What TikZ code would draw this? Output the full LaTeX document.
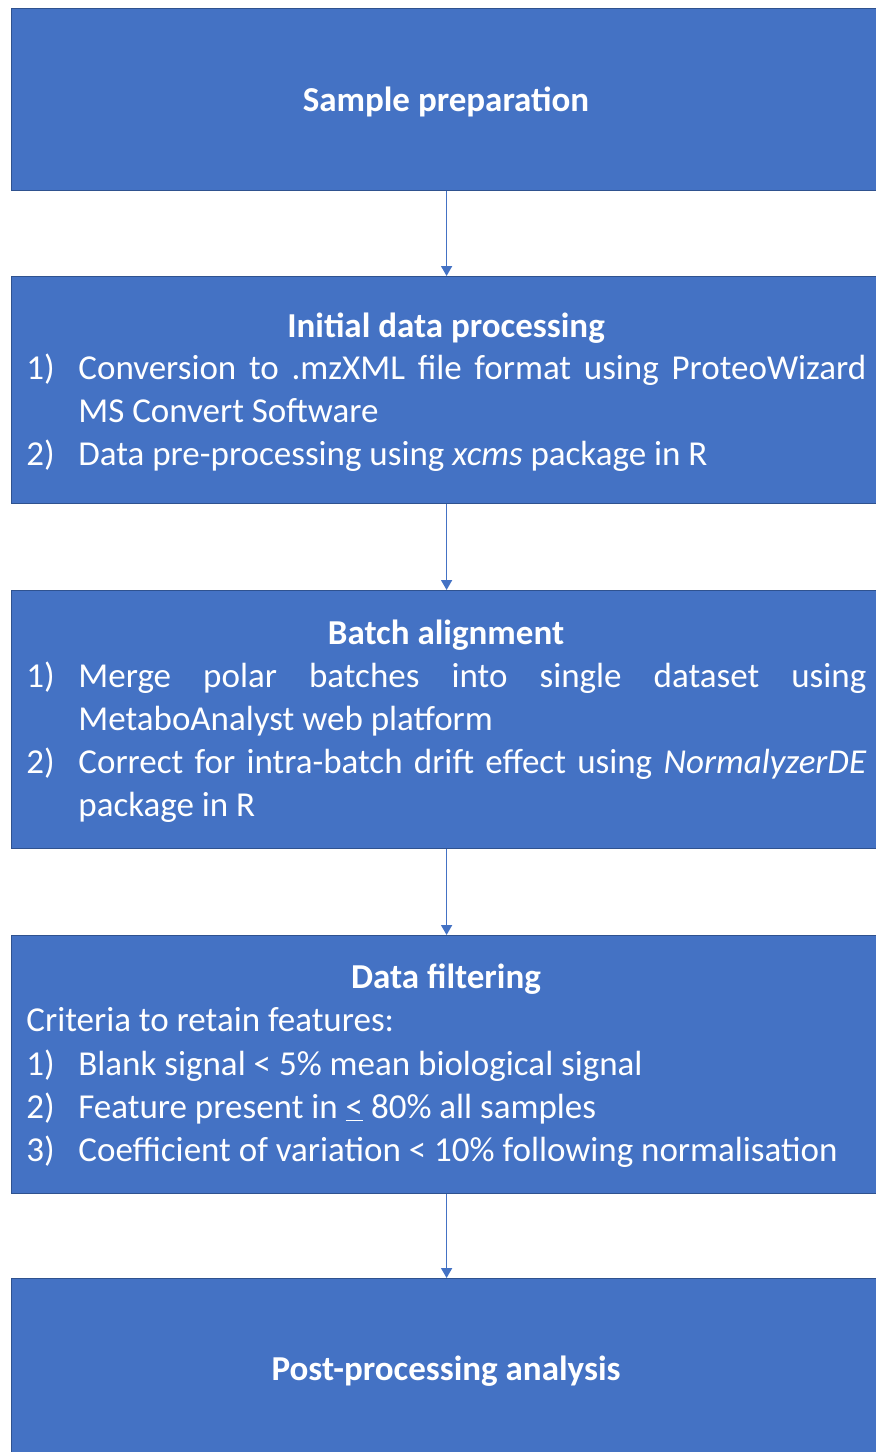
\documentclass[tikz,border=0pt]{standalone}
\usepackage{fontspec}
\setmainfont{Carlito}
\usetikzlibrary{arrows.meta}
\definecolor{boxblue}{HTML}{4472C4}
\definecolor{boxborder}{HTML}{2F528F}
\begin{document}
\begin{tikzpicture}[x=0.5pt,y=-0.5pt,
  stepbox/.style={rectangle, draw=boxborder, fill=boxblue, line width=0.6pt, minimum width=435pt, anchor=north west, inner sep=0pt},
  conn/.style={draw=boxblue, line width=0.8pt, -{Triangle[width=5.5pt,length=5pt]}},
  txt/.style={text=white, inner sep=0pt, anchor=base west, font=\fontsize{17.5pt}{21.5pt}\selectfont},
  ttl/.style={text=white, inner sep=0pt, anchor=base, font=\fontsize{17.5pt}{21.5pt}\selectfont\bfseries}]
\useasboundingbox (0,0) rectangle (876,1452);
% boxes
\node[stepbox, minimum height=91pt] (b1) at (11,8) {};
\node[stepbox, minimum height=113.5pt] (b2) at (11,276) {};
\node[stepbox, minimum height=129pt] (b3) at (11,590) {};
\node[stepbox, minimum height=129pt] (b4) at (11,935) {};
\node[stepbox, minimum height=91pt] (b5) at (11,1278) {};
% connectors
\draw[conn] (b1.south) -- (b2.north);
\draw[conn] (b2.south) -- (b3.north);
\draw[conn] (b3.south) -- (b4.north);
\draw[conn] (b4.south) -- (b5.north);
% box 1
\node[ttl] (t1) at (446,111) {Sample preparation};
% box 2
\node[ttl] (t2) at (446,337) {Initial data processing};
\node[txt] (n21) at (26,379) {1)};
\node[txt] (l21) at (78,379) {\makebox[394pt][s]{Conversion to .mzXML file format using ProteoWizard}};
\node[txt] (l22) at (78,422) {MS Convert Software};
\node[txt] (n22) at (26,465) {2)};
\node[txt] (l23) at (78,465) {Data pre-processing using \textit{xcms} package in R};
% box 3
\node[ttl] (t3) at (446,644) {Batch alignment};
\node[txt] (n31) at (26,687) {1)};
\node[txt] (l31) at (78,687) {\makebox[394pt][s]{Merge polar batches into single dataset using}};
\node[txt] (l32) at (78,730) {MetaboAnalyst web platform};
\node[txt] (n32) at (26,773) {2)};
\node[txt] (l33) at (78,773) {\makebox[394pt][s]{Correct for intra-batch drift effect using \textit{NormalyzerDE}}};
\node[txt] (l34) at (78,816) {package in R};
% box 4
\node[ttl] (t4) at (446,988) {Data filtering};
\node[txt] (l40) at (26,1031) {Criteria to retain features:};
\node[txt] (n41) at (26,1075) {1)};
\node[txt] (l41) at (78,1075) {Blank signal < 5\% mean biological signal};
\node[txt] (n42) at (26,1118) {2)};
\node[txt] (l42) at (78,1118) {Feature present in \underline{<} 80\% all samples};
\node[txt] (n43) at (26,1161) {3)};
\node[txt] (l43) at (78,1161) {Coefficient of variation < 10\% following normalisation};
% box 5
\node[ttl] (t5) at (446,1380) {Post-processing analysis};
\end{tikzpicture}
\end{document}
